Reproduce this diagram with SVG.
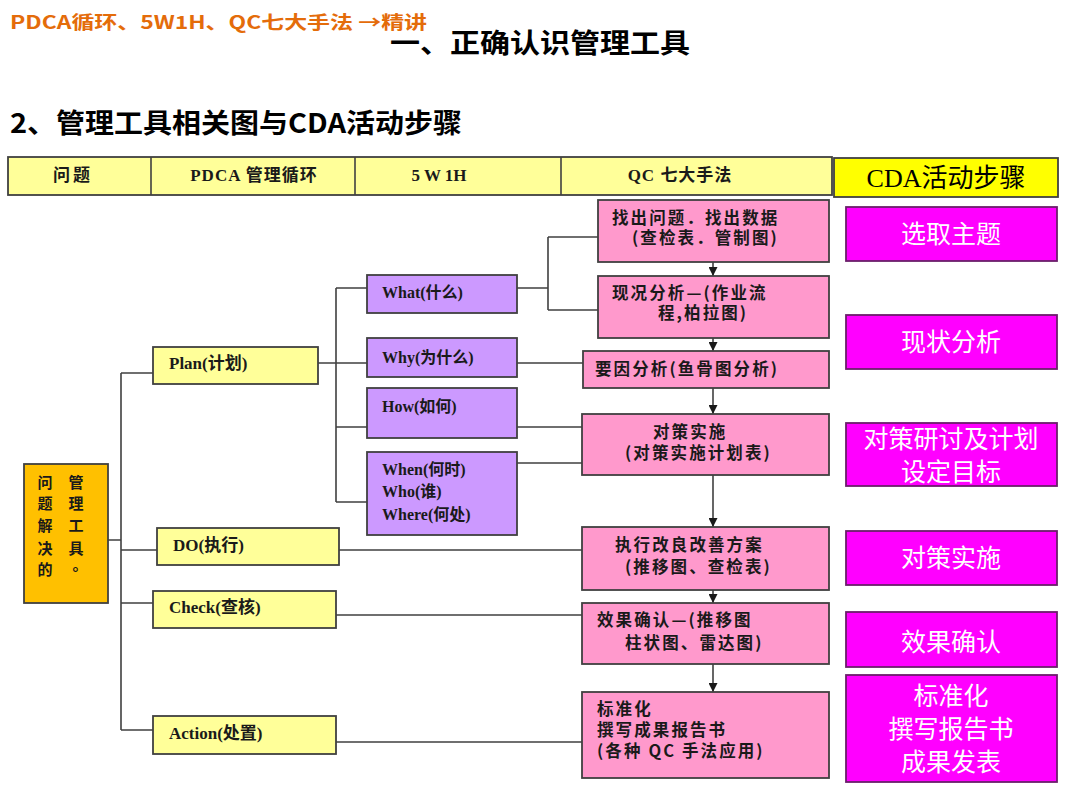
<svg xmlns="http://www.w3.org/2000/svg" width="1080" height="810" viewBox="0 0 1080 810">
<defs>
<style>
.bx{stroke:#404040;stroke-width:1.8}
.yl{fill:#FFFF99}
.pu{fill:#CC99FF}
.pk{fill:#FF99CC}
.mg{fill:#FF00FF;stroke:#6B1E6B;stroke-width:1.8}
.ln{fill:none;stroke:#404040;stroke-width:1.6}
.ser{font-family:"Liberation Serif","Noto Sans CJK SC",serif;font-weight:bold;fill:#1a1a1a}
.pt{font-family:"Noto Sans CJK SC","Liberation Sans",sans-serif;font-weight:bold;font-size:16.5px;letter-spacing:2.1px;fill:#1a1a1a}
.mt{font-family:"Noto Sans CJK SC","Liberation Sans",sans-serif;font-size:25px;fill:#ffffff;text-anchor:middle}
.lt{font-family:"Noto Sans CJK SC","Liberation Sans",sans-serif;font-weight:bold;font-size:15px;fill:#1a1a1a;text-anchor:middle}
</style>
<marker id="ah" viewBox="0 0 10 10" refX="10" refY="5" markerWidth="9" markerHeight="9" markerUnits="userSpaceOnUse" orient="auto">
<path d="M0,0 L10,5 L0,10 z" fill="#1a1a1a"/>
</marker>
</defs>
<rect width="1080" height="810" fill="#ffffff"/>

<g id="titles">
<text x="10" y="29" font-family="Noto Sans CJK SC, Liberation Sans, sans-serif" font-weight="bold" font-size="18" fill="#E46C0A" textLength="417" lengthAdjust="spacingAndGlyphs">PDCA循环、5W1H、QC七大手法 →精讲</text>
<text x="390" y="53" font-family="Noto Sans CJK SC, Liberation Sans, sans-serif" font-weight="bold" font-size="27" fill="#000" textLength="300" lengthAdjust="spacingAndGlyphs">一、正确认识管理工具</text>
<text x="10" y="133" font-family="Noto Sans CJK SC, Liberation Sans, sans-serif" font-weight="bold" font-size="27" fill="#000" textLength="452" lengthAdjust="spacingAndGlyphs">2、管理工具相关图与CDA活动步骤</text>
</g>

<g id="header">
<rect class="bx yl" x="8" y="157" width="824" height="38"/>
<line class="ln" x1="151" y1="157" x2="151" y2="195"/>
<line class="ln" x1="355" y1="157" x2="355" y2="195"/>
<line class="ln" x1="561" y1="157" x2="561" y2="195"/>
<text class="ser" x="73" y="181" font-size="17" text-anchor="middle" letter-spacing="3">问题</text>
<text class="ser" x="254" y="181" font-size="17" text-anchor="middle" letter-spacing="1">PDCA 管理循环</text>
<text class="ser" x="439" y="181" font-size="17" text-anchor="middle">5 W 1H</text>
<text class="ser" x="680" y="181" font-size="17" text-anchor="middle" letter-spacing="1">QC 七大手法</text>
</g>

<g id="cda-header">
<rect x="834" y="158" width="224" height="39" fill="#FFFF00" stroke="#404040" stroke-width="1.8"/>
<text x="946" y="187" font-family="Liberation Serif, Noto Sans CJK SC, serif" font-size="26" text-anchor="middle" fill="#000">CDA活动步骤</text>
</g>

<g id="connectors">
<path class="ln" d="M108,540 H121 M121,373 V730 M121,373 H153 M121,550 H157 M121,603 H153 M121,730 H153"/>
<path class="ln" d="M318,363 H336 M336,288 V502 M336,288 H367 M336,363 H367 M336,427 H367 M336,502 H367"/>
<path class="ln" d="M517,288 H548 M548,237 V310 M548,237 H598 M548,310 H598"/>
<path class="ln" d="M517,363 H583 M517,427 H582 M517,463 H582"/>
<path class="ln" d="M339,550 H582 M336,615 H582 M336,742 H582"/>
<path class="ln" marker-end="url(#ah)" d="M713,262 V276"/>
<path class="ln" marker-end="url(#ah)" d="M713,338 V351"/>
<path class="ln" marker-end="url(#ah)" d="M713,388 V414"/>
<path class="ln" marker-end="url(#ah)" d="M713,475 V527"/>
<path class="ln" marker-end="url(#ah)" d="M713,590 V603"/>
<path class="ln" marker-end="url(#ah)" d="M713,664 V692"/>
</g>

<g id="root">
<rect class="bx" x="24" y="464" width="84" height="139" fill="#FFC000"/>
<text class="lt" x="45" y="488">问</text>
<text class="lt" x="45" y="509">题</text>
<text class="lt" x="45" y="531">解</text>
<text class="lt" x="45" y="554">决</text>
<text class="lt" x="45" y="575">的</text>
<text class="lt" x="76" y="488">管</text>
<text class="lt" x="76" y="509">理</text>
<text class="lt" x="76" y="531">工</text>
<text class="lt" x="76" y="554">具</text>
<text class="lt" x="80" y="570">。</text>
</g>

<g id="plan"><rect class="bx yl" x="153" y="347" width="165" height="37"/><text class="ser" x="169" y="369" font-size="17">Plan(计划)</text></g>
<g id="do"><rect class="bx yl" x="157" y="528" width="182" height="37"/><text class="ser" x="173" y="551" font-size="17">DO(执行)</text></g>
<g id="check"><rect class="bx yl" x="153" y="591" width="183" height="37"/><text class="ser" x="169" y="613" font-size="17">Check(查核)</text></g>
<g id="action"><rect class="bx yl" x="153" y="716" width="183" height="38"/><text class="ser" x="169" y="739" font-size="17">Action(处置)</text></g>

<g id="what"><rect class="bx pu" x="367" y="275" width="150" height="38"/><text class="ser" x="382" y="298" font-size="16">What(什么)</text></g>
<g id="why"><rect class="bx pu" x="367" y="338" width="150" height="39"/><text class="ser" x="382" y="363" font-size="16">Why(为什么)</text></g>
<g id="how"><rect class="bx pu" x="367" y="388" width="150" height="50"/><text class="ser" x="382" y="412" font-size="16">How(如何)</text></g>
<g id="when"><rect class="bx pu" x="367" y="452" width="150" height="83"/>
<text class="ser" x="382" y="475" font-size="16">When(何时)</text>
<text class="ser" x="382" y="497" font-size="16">Who(谁)</text>
<text class="ser" x="382" y="520" font-size="16">Where(何处)</text></g>

<g id="qc1"><rect class="bx pk" x="598" y="200" width="231" height="62"/>
<text class="pt" x="612" y="224">找出问题．找出数据</text>
<text class="pt" x="632" y="244">(查检表．管制图)</text></g>
<g id="qc2"><rect class="bx pk" x="598" y="276" width="231" height="62"/>
<text class="pt" x="612" y="299">现况分析—(作业流</text>
<text class="pt" x="658" y="319">程,柏拉图)</text></g>
<g id="qc3"><rect class="bx pk" x="583" y="351" width="246" height="37"/>
<text class="pt" x="595" y="375">要因分析(鱼骨图分析)</text></g>
<g id="qc4"><rect class="bx pk" x="582" y="414" width="247" height="61"/>
<text class="pt" x="653" y="438">对策实施</text>
<text class="pt" x="625" y="459">(对策实施计划表)</text></g>
<g id="qc5"><rect class="bx pk" x="582" y="527" width="247" height="63"/>
<text class="pt" x="615" y="551">执行改良改善方案</text>
<text class="pt" x="625" y="573">(推移图、查检表)</text></g>
<g id="qc6"><rect class="bx pk" x="582" y="603" width="247" height="61"/>
<text class="pt" x="597" y="626">效果确认—(推移图</text>
<text class="pt" x="625" y="649">柱状图、雷达图)</text></g>
<g id="qc7"><rect class="bx pk" x="582" y="692" width="247" height="86"/>
<text class="pt" x="597" y="715">标准化</text>
<text class="pt" x="597" y="736">撰写成果报告书</text>
<text class="pt" x="597" y="757">(各种 QC 手法应用)</text></g>

<g id="cda1"><rect class="mg" x="846" y="207" width="211" height="54"/><text class="mt" x="951" y="243">选取主题</text></g>
<g id="cda2"><rect class="mg" x="846" y="315" width="211" height="54"/><text class="mt" x="951" y="351">现状分析</text></g>
<g id="cda3"><rect class="mg" x="846" y="423" width="211" height="63"/><text class="mt" x="951" y="448">对策研讨及计划</text><text class="mt" x="951" y="481">设定目标</text></g>
<g id="cda4"><rect class="mg" x="846" y="531" width="211" height="54"/><text class="mt" x="951" y="567">对策实施</text></g>
<g id="cda5"><rect class="mg" x="846" y="612" width="211" height="55"/><text class="mt" x="951" y="651">效果确认</text></g>
<g id="cda6"><rect class="mg" x="846" y="675" width="211" height="107"/><text class="mt" x="951" y="705">标准化</text><text class="mt" x="951" y="738">撰写报告书</text><text class="mt" x="951" y="771">成果发表</text></g>
</svg>
